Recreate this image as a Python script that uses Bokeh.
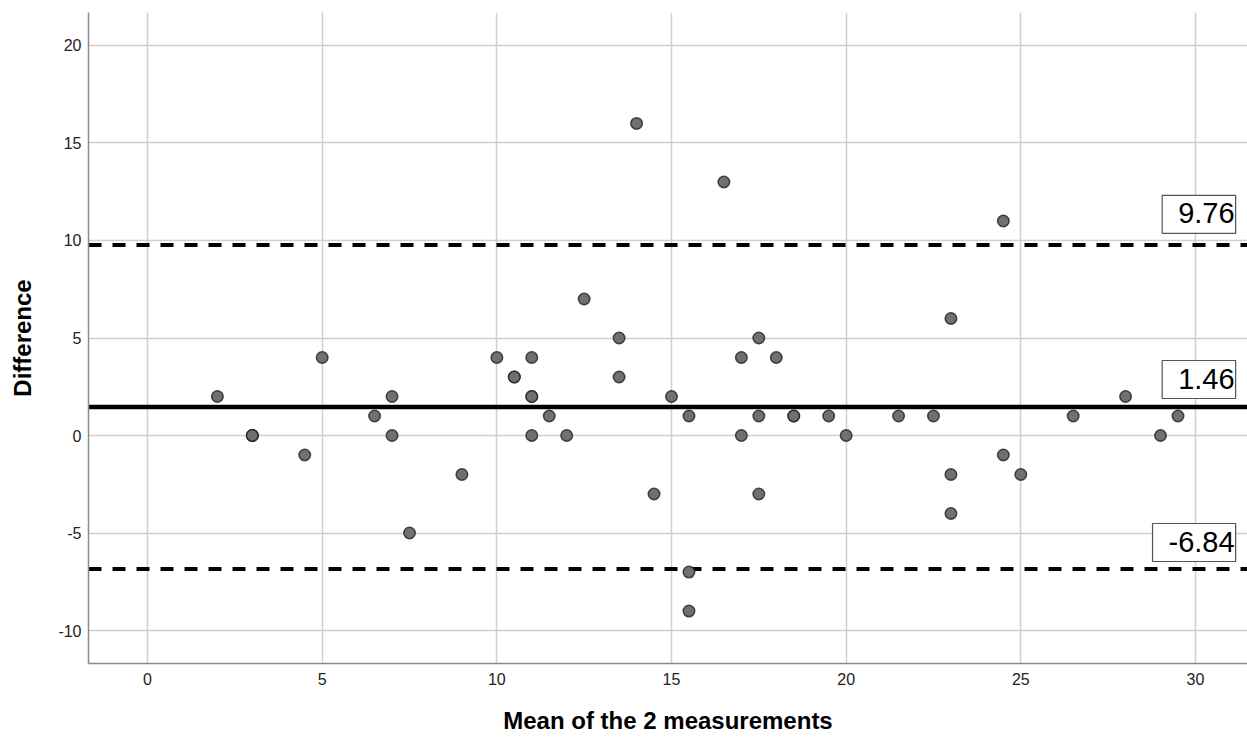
import numpy as np
from bokeh.plotting import figure
from bokeh.models import Span, Label, FixedTicker, Range1d, ColumnDataSource
from bokeh.embed import file_html
from bokeh.resources import INLINE

# ---- data (Bland-Altman plot) ----
mean_vals = [2, 3, 3, 3, 4.5, 5, 6.5, 7, 7, 7.5, 9, 10, 10.5, 10.5, 11, 11, 11, 11,
             11.5, 12, 12.5, 13.5, 13.5, 14, 14.5, 15, 15.5, 15.5, 15.5, 16.5, 17, 17,
             17.5, 17.5, 17.5, 18, 18.5, 18.5, 19.5, 20, 21.5, 22.5, 23, 23, 23, 24.5,
             24.5, 25, 26.5, 28, 29, 29.5]
diff_vals = [2, 0, 0, 0, -1, 4, 1, 2, 0, -5, -2, 4, 3, 3, 4, 2, 2, 0,
             1, 0, 7, 5, 3, 16, -3, 2, 1, -7, -9, 13, 4, 0,
             5, 1, -3, 4, 1, 1, 1, 0, 1, 1, 6, -2, -4, 11,
             -1, -2, 1, 2, 0, 1]
x_ticks = [0, 5, 10, 15, 20, 25, 30]
y_ticks = [-10, -5, 0, 5, 10, 15, 20]
x_title = "Mean of the 2 measurements"
y_title = "Difference"

bias = float(np.mean(diff_vals))
sd = float(np.std(diff_vals, ddof=1))
upper = bias + 1.96 * sd
lower = bias - 1.96 * sd

FONT = "Liberation Sans"

p = figure(width=1247, height=737, output_backend="svg", toolbar_location=None,
           x_range=Range1d(-1.69, 31.49), y_range=Range1d(-11.69, 21.69),
           min_border_left=88, min_border_right=0, min_border_top=12,
           min_border_bottom=74)
p.outline_line_color = None
p.background_fill_color = "white"
p.border_fill_color = "white"

p.xaxis.ticker = FixedTicker(ticks=x_ticks)
p.yaxis.ticker = FixedTicker(ticks=y_ticks)
p.xgrid.ticker = FixedTicker(ticks=x_ticks)
p.ygrid.ticker = FixedTicker(ticks=y_ticks)
p.xaxis.major_label_overrides = {t: str(t) for t in x_ticks}
p.yaxis.major_label_overrides = {t: str(t) for t in y_ticks}
for g in (p.xgrid[0], p.ygrid[0]):
    g.grid_line_color = "#cfcfcf"
    g.grid_line_width = 1.5

for ax in (p.xaxis[0], p.yaxis[0]):
    ax.axis_line_color = "#8a8a8a"
    ax.axis_line_width = 1.5
    ax.major_tick_line_color = None
    ax.major_tick_out = 0
    ax.major_tick_in = 0
    ax.minor_tick_line_color = None
    ax.minor_tick_out = 0
    ax.major_label_text_font = FONT
    ax.major_label_text_font_size = "16px"
    ax.major_label_text_color = "#222222"
    ax.axis_label_text_font = FONT
    ax.axis_label_text_font_style = "bold"
    ax.axis_label_text_font_size = "24px"
    ax.axis_label_text_color = "black"

p.xaxis.axis_label = x_title
p.yaxis.axis_label = y_title
p.xaxis.major_label_standoff = 9
p.yaxis.major_label_standoff = 7
p.xaxis.axis_label_standoff = 19
p.yaxis.axis_label_standoff = 19

# limit of agreement lines
p.add_layout(Span(location=upper, dimension="width", line_color="black",
                  line_width=4, line_dash="13 11", level="underlay"))
p.add_layout(Span(location=lower, dimension="width", line_color="black",
                  line_width=4, line_dash="13 11", level="underlay"))
p.add_layout(Span(location=bias, dimension="width", line_color="black",
                  line_width=4.5, level="underlay"))

src = ColumnDataSource(data=dict(x=mean_vals, y=diff_vals))
p.scatter(x="x", y="y", source=src, size=11.5, fill_color="#707070",
          line_color="#222222", line_width=1.5, line_alpha=0.8)

for v, off in ((upper, 11.7), (bias, 8.5), (lower, 7.4)):
    p.add_layout(Label(x=31.15, y=v, text=f"{v:.2f}", text_align="right",
                       text_baseline="bottom", y_offset=off, text_font=FONT,
                       text_font_size="29px", text_color="black",
                       background_fill_color="white", border_line_color="#555555",
                       border_line_width=1.2,
                       padding=dict(left=16, right=1, top=8, bottom=10)))

open("out.html", "w").write(file_html(p, INLINE))
